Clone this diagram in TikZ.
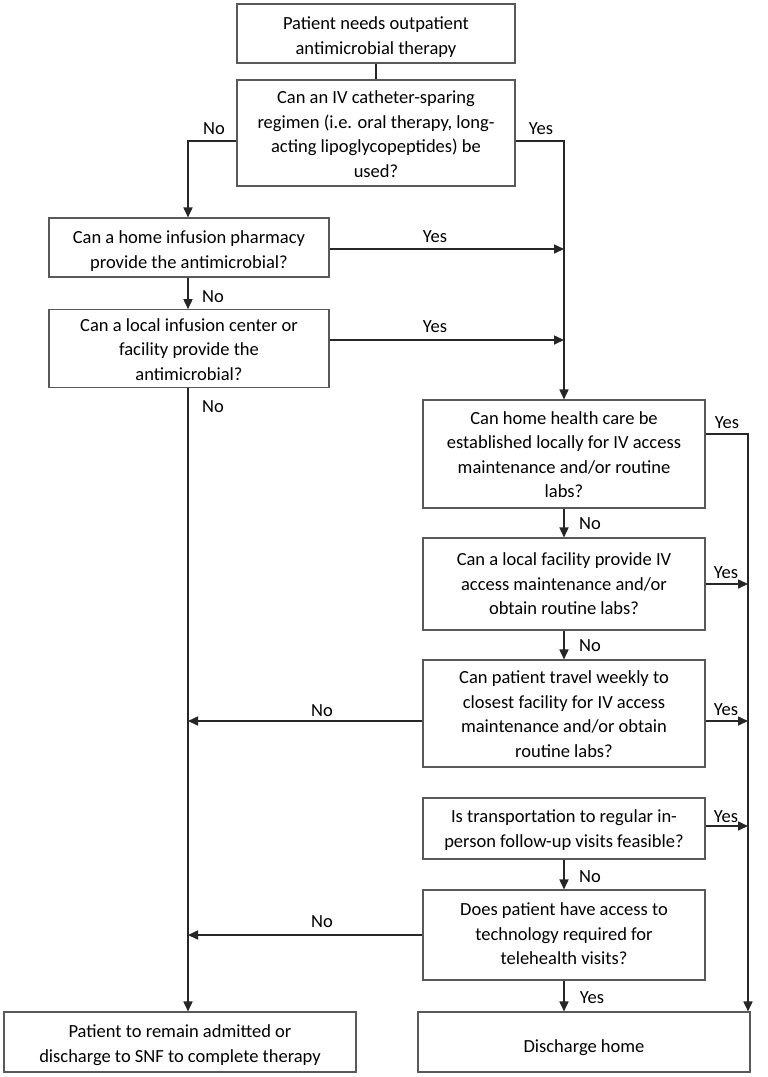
\documentclass[tikz,border=0pt]{standalone}
\usepackage{fontspec}
\setmainfont{Carlito}
\usetikzlibrary{arrows.meta}
\newcommand{\bxt}[2][2.5pt]{\raisebox{-#1}[\height][\depth]{\begin{tabular}{@{}c@{}}#2\end{tabular}}}
\begin{document}
\begin{tikzpicture}[x=1pt,y=-1pt,
  box/.style={draw=black!65,line width=1.1pt,fill=white,inner sep=2pt,
    font=\fontsize{18.5}{24.5}\selectfont,text=black},
  lbl/.style={font=\fontsize{18.5}{22}\selectfont,text=black,inner sep=0pt},
  link/.style={draw=black!85,line width=1.6pt},
  arr/.style={link,-{Triangle[length=10pt,width=9pt]}}]
\useasboundingbox (0,0) rectangle (768,1077);
\fill[white] (0,0) rectangle (768,1077);
% boxes
\node[box,minimum width=278pt,minimum height=59pt] (b1) at (376,33.5) {\bxt[3.5pt]{Patient needs outpatient\\antimicrobial therapy}};
\node[box,minimum width=278pt,minimum height=106pt] (b2) at (376,133) {\bxt{Can an IV catheter-sparing\\regimen (i.e. oral therapy, long-\\acting lipoglycopeptides) be\\used?}};
\node[box,minimum width=280pt,minimum height=59pt] (b3) at (189,247.5) {\bxt[3.5pt]{Can a home infusion pharmacy\\provide the antimicrobial?}};
\node[box,minimum width=280pt,minimum height=77pt] (b4) at (189,348.5) {\bxt{Can a local infusion center or\\facility provide the\\antimicrobial?}};
\node[box,minimum width=282pt,minimum height=108pt] (b5) at (564,454) {\bxt[2pt]{Can home health care be\\established locally for IV access\\maintenance and/or routine\\labs?}};
\node[box,minimum width=282pt,minimum height=92pt] (b6) at (564,584) {\bxt[1.5pt]{Can a local facility provide IV\\access maintenance and/or\\obtain routine labs?}};
\node[box,minimum width=282pt,minimum height=107pt] (b7) at (564,713.5) {\bxt[2pt]{Can patient travel weekly to\\closest facility for IV access\\maintenance and/or obtain\\routine labs?}};
\node[box,minimum width=282pt,minimum height=61pt] (b8) at (564,828.5) {\bxt[1.5pt]{Is transportation to regular in-\\person follow-up visits feasible?}};
\node[box,minimum width=282pt,minimum height=90pt] (b9) at (564,935) {\bxt[0.5pt]{Does patient have access to\\technology required for\\telehealth visits?}};
\node[box,minimum width=352pt,minimum height=60pt] (fl) at (180,1042) {\bxt[3pt]{Patient to remain admitted or\\discharge to SNF to complete therapy}};
\node[box,minimum width=332pt,minimum height=60pt] (dh) at (584,1042) {\bxt[6pt]{Discharge home}};
% connectors
\draw[link] (b1) -- (b2);
\coordinate (lx) at (188,0);
\coordinate (rx) at (748,0);
\draw[arr] ([yshift=-8pt]b2.west) -| (b3.north -| lx);
\draw[arr] ([yshift=-8pt]b2.east) -| (b5.north);
\draw[arr] ([yshift=-1.5pt]b3.east) -- ([yshift=-1.5pt]b3.east -| b5.north);
\draw[arr] (b3.south -| lx) -- (b4.north -| lx);
\draw[arr] ([yshift=8.5pt]b4.east) -- ([yshift=8.5pt]b4.east -| b5.north);
\draw[arr] (b4.south -| lx) -- (fl.north -| lx);
\draw[arr] ([yshift=20pt]b5.east) -| (dh.north -| rx);
\draw[arr] (b5) -- (b6);
\draw[arr] (b6.east) -- (b6.east -| rx);
\draw[arr] (b6) -- (b7);
\draw[arr] ([yshift=-7.5pt]b7.west) -- ([yshift=-7.5pt]b7.west -| lx);
\draw[arr] ([yshift=-7.5pt]b7.east) -- ([yshift=-7.5pt]b7.east -| rx);
\draw[arr] ([yshift=2.5pt]b8.east) -- ([yshift=2.5pt]b8.east -| rx);
\draw[arr] (b8) -- (b9);
\draw[arr] (b9.west) -- (b9.west -| lx);
\draw[arr] (b9.south) -- (b9.south |- dh.north);
% labels
\node[lbl] (l1) at (214,129) {No};
\node[lbl] (l2) at (541,129) {Yes};
\node[lbl] (l3) at (435,237) {Yes};
\node[lbl] (l4) at (213,297) {No};
\node[lbl] (l5) at (435,327) {Yes};
\node[lbl] (l6) at (213,407) {No};
\node[lbl] (l7) at (727,423) {Yes};
\node[lbl] (l8) at (590,524) {No};
\node[lbl] (l9) at (726,573) {Yes};
\node[lbl] (l10) at (590,646) {No};
\node[lbl] (l11) at (322,711) {No};
\node[lbl] (l12) at (726,710) {Yes};
\node[lbl] (l13) at (726,817) {Yes};
\node[lbl] (l14) at (590,877) {No};
\node[lbl] (l15) at (322,922) {No};
\node[lbl] (l16) at (592,998) {Yes};
\end{tikzpicture}
\end{document}
